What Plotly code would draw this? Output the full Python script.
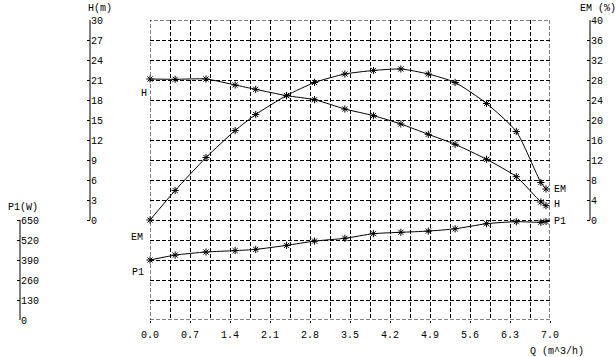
import plotly.graph_objects as go

W, Hh = 616, 357

# Data
Q = [0.0, 0.44, 0.98, 1.49, 1.85, 2.39, 2.88, 3.41, 3.91, 4.39, 4.87, 5.34, 5.89, 6.41, 6.84, 6.93]
H = [21.15, 21.1, 21.15, 20.25, 19.6, 18.65, 18.05, 16.65, 15.65, 14.4, 12.85, 11.35, 9.1, 6.5, 2.7, 2.15]
EM = [0.0, 5.9, 12.5, 17.9, 21.1, 24.9, 27.5, 29.2, 29.9, 30.2, 29.2, 27.5, 23.3, 17.7, 7.5, 6.2]
P1 = [390, 422, 442, 451, 459, 485, 513, 531, 561, 570, 578, 593, 626, 639, 635, 640]

x_ticks = [0.0, 0.7, 1.4, 2.1, 2.8, 3.5, 4.2, 4.9, 5.6, 6.3, 7.0]
h_ticks = [0, 3, 6, 9, 12, 15, 18, 21, 24, 27, 30]
em_ticks = [0, 4, 8, 12, 16, 20, 24, 28, 32, 36, 40]
p1_ticks = [0, 130, 260, 390, 520, 650]

FONT = "Liberation Mono"
FS = 10
DASH = "4px,2px"


def px(x):
    return x / W


def py(y):
    return 1 - y / Hh


fig = go.Figure()

line = dict(color="black", width=1, shape="spline", smoothing=0.6)
marker = dict(symbol="asterisk-open", size=6, color="black", line=dict(color="black", width=1))

fig.add_trace(go.Scatter(x=Q, y=H, xaxis="x", yaxis="y", mode="lines+markers",
                         line=line, marker=marker, showlegend=False, cliponaxis=False))
fig.add_trace(go.Scatter(x=Q, y=EM, xaxis="x", yaxis="y2", mode="lines+markers",
                         line=line, marker=marker, showlegend=False, cliponaxis=False))
fig.add_trace(go.Scatter(x=Q, y=P1, xaxis="x", yaxis="y3", mode="lines+markers",
                         line=line, marker=marker, showlegend=False, cliponaxis=False))

yax_common = dict(zeroline=False, showline=False, ticks="inside", ticklen=3, tickcolor="black",
                  side="right", anchor="free", automargin=False,
                  tickfont=dict(family=FONT, size=FS, color="black"))

fig.update_layout(
    width=W, height=Hh,
    margin=dict(l=0, r=0, t=0, b=0),
    paper_bgcolor="white", plot_bgcolor="white",
    font=dict(family=FONT, size=FS, color="black"),
    xaxis=dict(
        domain=[px(150), px(550)], range=[0, 7], anchor="y", automargin=False,
        tickvals=x_ticks, ticktext=[f"{v:.1f}" for v in x_ticks],
        showgrid=True, gridcolor="black", griddash=DASH, gridwidth=1,
        minor=dict(dtick=0.35, tick0=0, showgrid=True, gridcolor="black", griddash=DASH,
                   gridwidth=1, ticks=""),
        zeroline=False, showline=False, ticks="outside", ticklen=2, tickcolor="black",
        ticklabelstandoff=3,
        tickfont=dict(family=FONT, size=FS),
    ),
    yaxis=dict(
        domain=[py(320), py(20)], range=[-15, 30], position=px(90), tickvals=h_ticks,
        showgrid=True, gridcolor="black", griddash=DASH, gridwidth=1,
        minor=dict(dtick=3, tick0=0, showgrid=True, gridcolor="black", griddash=DASH,
                   gridwidth=1, ticks=""),
        **yax_common,
    ),
    yaxis2=dict(overlaying="y", range=[-20, 40], position=px(590), tickvals=em_ticks,
                showgrid=False, **yax_common),
    yaxis3=dict(overlaying="y", range=[0, 1950], position=px(20), tickvals=p1_ticks,
                showgrid=False, **yax_common),
)

# dashed outer frame of the grid (edges are not drawn as gridlines)
fig.add_shape(type="rect", xref="x", yref="y", x0=0, x1=7, y0=-15, y1=30,
              line=dict(color="black", width=1, dash=DASH), layer="below")

# axis spines covering only each axis' own value span
fig.add_shape(type="line", xref="paper", yref="y", x0=px(90), x1=px(90),
              y0=h_ticks[0], y1=h_ticks[-1], line=dict(color="black", width=1))
fig.add_shape(type="line", xref="paper", yref="y2", x0=px(590), x1=px(590),
              y0=em_ticks[0], y1=em_ticks[-1], line=dict(color="black", width=1))
fig.add_shape(type="line", xref="paper", yref="y3", x0=px(20), x1=px(20),
              y0=p1_ticks[0], y1=p1_ticks[-1], line=dict(color="black", width=1))


def ann(text, x, y, xanchor="left"):
    fig.add_annotation(text=text, x=px(x), y=py(y), xref="paper", yref="paper",
                       showarrow=False, xanchor=xanchor, yanchor="middle",
                       font=dict(family=FONT, size=FS, color="black"))


ann("H(m)", 86, 8)
ann("EM (%)", 578, 8)
ann("P1(W)", 6, 207)
ann("Q (m^3/h)", 528, 351)
ann("H", 139, 94)
ann("EM", 129, 237)
ann("P1", 130, 272)
ann("EM", 552, 189)
ann("H", 552, 205)
ann("P1", 552, 221)

fig.write_html("out.html", post_script="document.body.style.margin='0';",
               config={"displayModeBar": False})
